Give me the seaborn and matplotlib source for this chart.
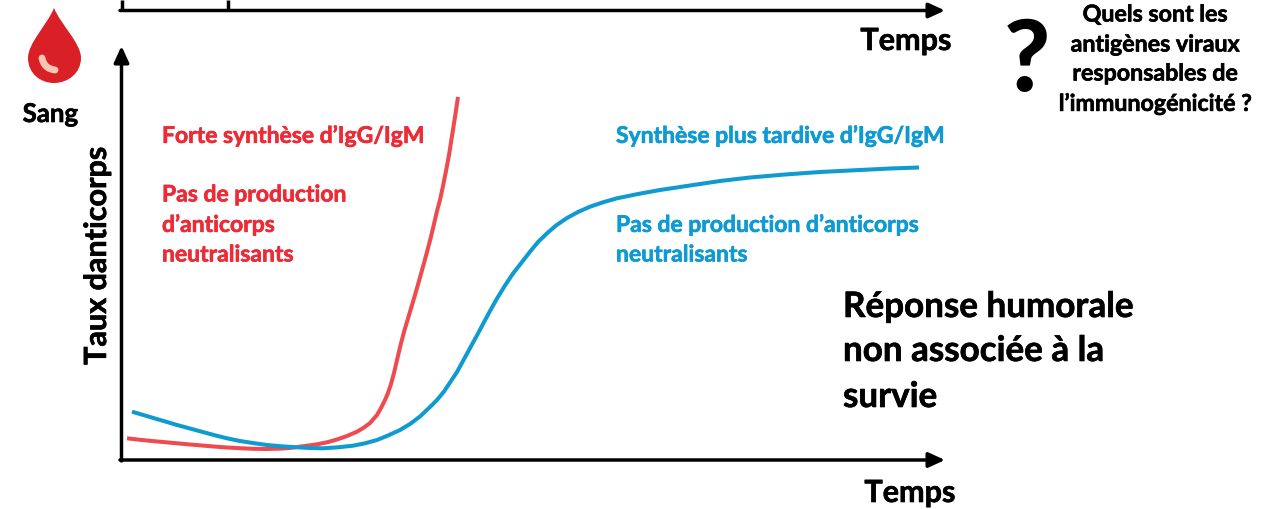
import matplotlib
matplotlib.use("Agg")
import matplotlib.pyplot as plt
import matplotlib.patheffects as pe
from matplotlib.path import Path
from matplotlib.patches import PathPatch
import pandas as pd
import seaborn as sns

# Curves (horizontal position, antibody level as image height)
red_time = [127, 140, 152, 165, 177, 190, 202, 215, 227, 240, 254, 267, 280, 290, 297, 305, 316, 327, 337, 347, 357, 364, 370, 377, 381, 385, 388, 391, 394, 397, 401, 404, 407, 411, 415, 419, 423, 427, 431, 434, 437, 440, 443, 446, 449, 452, 455, 458]
red_level = [438.3, 439.8, 441, 442.2, 443.3, 444.5, 445.5, 446.6, 447.5, 448.2, 448.8, 449, 448.6, 448, 447, 446, 444.5, 442.3, 439.5, 436, 431.7, 427.5, 423, 415, 408, 400, 393, 384, 373, 360, 343.3, 332, 321.7, 308.5, 295, 281, 266.7, 252, 236.7, 224, 211, 200, 186, 171, 155, 136, 117, 97]
blue_time = [132, 145, 155, 166, 177, 190, 202, 215, 227, 240, 254, 267, 280, 297, 310, 323, 338, 353, 365, 377, 388, 400, 410, 420, 430, 437, 444, 450, 457, 463, 472, 478, 483, 490, 497, 505, 513, 522, 530, 538, 547, 556, 567, 578, 590, 603, 617, 638, 660, 690, 720, 750, 785, 820, 860, 890, 919]
blue_level = [411.7, 415.5, 418.5, 421.7, 425, 428.5, 431.8, 435.3, 438.3, 441, 443.2, 445, 446.2, 447.3, 448, 448.3, 447.3, 445.7, 443.3, 440, 435.5, 430, 424, 416.5, 407, 400, 391.5, 382.5, 372, 361, 344.5, 333.5, 324, 311, 298.5, 285.5, 273.5, 262, 251.7, 242, 233.3, 225.5, 218, 212, 206.7, 202.3, 198.3, 194, 190, 185.5, 181, 177.5, 174.5, 172, 170, 168.5, 167.5]
RED = "#EE4B50"
BLUE = "#0F9BD0"
LABEL_RED = "#EC2B36"
LABEL_BLUE = "#0E9AD2"

sns.set_theme(style="white")
plt.rcParams["font.family"] = ["Lato", "DejaVu Sans"]
fig, ax = plt.subplots(figsize=(12.72, 5.09), dpi=100)
ax.set_position([0, 0, 1, 1])

df = pd.concat([
    pd.DataFrame({"t": red_time, "v": red_level, "s": "rouge"}),
    pd.DataFrame({"t": blue_time, "v": blue_level, "s": "bleu"}),
])
sns.lineplot(data=df, x="t", y="v", hue="s", palette={"rouge": RED, "bleu": BLUE},
             estimator=None, sort=False, lw=2.9, legend=False, ax=ax,
             solid_joinstyle="round", solid_capstyle="butt")
ax.set_xlim(0, 1272)
ax.set_ylim(509, 0)
ax.axis("off")

arrow = dict(arrowstyle="-|>,head_width=0.32,head_length=0.7", color="black", lw=2.5,
             shrinkA=0, shrinkB=0, mutation_scale=14)
ax.annotate("", xy=(945, 460), xytext=(120, 460), arrowprops=arrow)
ax.annotate("", xy=(121.5, 46), xytext=(121.5, 461), arrowprops=arrow)
ax.annotate("", xy=(945, 10.5), xytext=(120, 10.5), arrowprops=arrow)
ax.plot([121.5, 121.5], [0, 11], color="black", lw=2.5, solid_capstyle="butt")
ax.plot([227.5, 227.5], [0, 10], color="black", lw=2.5, solid_capstyle="butt")

drop = Path(
    [(54, 8), (47, 25), (28, 43), (28, 58), (28, 73), (40, 83), (54, 83),
     (68, 83), (81, 73), (81, 58), (81, 43), (61, 25), (54, 8)],
    [Path.MOVETO] + [Path.CURVE4] * 12)
ax.add_patch(PathPatch(drop, facecolor="#D92027", edgecolor="none"))
shine = Path([(42, 58), (44, 67), (49, 69), (55, 70)], [Path.MOVETO] + [Path.CURVE4] * 3)
ax.add_patch(PathPatch(shine, facecolor="none", edgecolor="#FAC4B2", lw=5, capstyle="round"))


def label(x, y, s, size, ha="left", color="black", rotation=0):
    t = ax.text(x, y, s, fontsize=size, ha=ha, va="center", color=color, rotation=rotation,
                fontweight="bold")
    t.set_path_effects([pe.withStroke(linewidth=0.45, foreground=color)])


label(50.5, 114, "Sang", 18.6, "center")
label(906, 41, "Temps", 22, "center")
label(910, 493, "Temps", 22, "center")
label(97, 256, "Taux danticorps", 22, "center", rotation=90)
ax.text(1027, 62, "?", fontsize=72, ha="center", va="center", color="black", fontweight="black")
for y, s in zip([15, 45, 74, 104], ["Quels sont les", "antigènes viraux", "responsables de", "l’immunogénicité ?"]):
    label(1155, y, s, 16.7, "center")
for y, s in zip([136, 195, 225, 255], ["Forte synthèse d’IgG/IgM", "Pas de production", "d’anticorps", "neutralisants"]):
    label(162, y, s, 16.5, color=LABEL_RED)
for y, s in zip([136, 225, 255], ["Synthèse plus tardive d’IgG/IgM", "Pas de production d’anticorps", "neutralisants"]):
    label(616, y, s, 16.5, color=LABEL_BLUE)
for y, s in zip([307, 351, 397], ["Réponse humorale", "non associée à la", "survie"]):
    label(843, y, s, 25.2)

fig.savefig("out.png", dpi=100)
